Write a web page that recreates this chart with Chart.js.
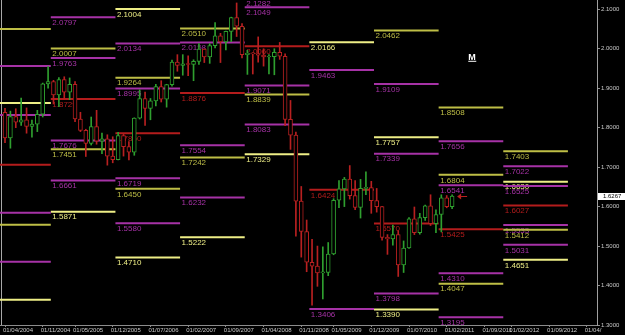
<!DOCTYPE html>
<html>
<head>
<meta charset="utf-8">
<script src="https://cdn.jsdelivr.net/npm/chart.js@4.4.1/dist/chart.umd.min.js"></script>
<style>
  html, body { margin: 0; padding: 0; background: #000; }
  #wrap { width: 625px; height: 335px; position: relative; }
</style>
</head>
<body>
<div id="wrap"><canvas id="gbpChart"></canvas></div>
<script>
// monthly candles, index 0 = Apr 2004 ... index 83 = Mar 2011
const opens = [
  1.8390, 1.7740, 1.8280, 1.8140, 1.8200, 1.8030, 1.8090, 1.8340, 1.9110,
  1.9170, 1.8830, 1.9220, 1.8900, 1.9100, 1.8220, 1.7930, 1.7600, 1.8030, 1.7660, 1.7720, 1.7280,
  1.7190, 1.7800, 1.7520, 1.7380, 1.8240, 1.8740, 1.8490, 1.8680, 1.9040, 1.8720, 1.9090, 1.9660,
  1.9580, 1.9620, 1.9600, 1.9680, 1.9990, 1.9790, 2.0080, 2.0330, 2.0170, 2.0440, 2.0790, 2.0570,
  1.9850, 1.9890, 1.9870, 1.9840, 1.9790, 1.9800, 1.9910, 1.9810, 1.8210, 1.7810, 1.6140, 1.5370,
  1.4590, 1.4490, 1.4320, 1.4330, 1.4800, 1.6160, 1.6450, 1.6700, 1.6280, 1.5980, 1.6460, 1.6480,
  1.6150, 1.6000, 1.5220, 1.5180, 1.5290, 1.4520, 1.4950, 1.5690, 1.5340, 1.5720, 1.6020, 1.5570,
  1.5800, 1.6220, 1.6000
];
const highs = [
  1.8490, 1.8420, 1.8480, 1.8750, 1.8500, 1.8190, 1.8440, 1.9130, 1.9550,
  1.9200, 1.9270, 1.9290, 1.9260, 1.9170, 1.8390, 1.7960, 1.8270, 1.8440, 1.7860, 1.7820, 1.7770,
  1.7880, 1.7830, 1.7650, 1.8250, 1.8960, 1.8900, 1.8740, 1.9100, 1.9190, 1.9100, 1.9710, 1.9850,
  1.9850, 1.9820, 1.9720, 2.0130, 2.0000, 2.0130, 2.0660, 2.0390, 2.0450, 2.0800, 2.1160, 2.0640,
  1.9960, 1.9900, 2.0300, 2.0000, 1.9850, 2.0000, 2.0160, 1.9870, 1.8690, 1.7890, 1.6510, 1.5660,
  1.5170, 1.5000, 1.4980, 1.5090, 1.6200, 1.6660, 1.6740, 1.7040, 1.6660, 1.6690, 1.6880, 1.6640,
  1.6460, 1.6010, 1.5290, 1.5530, 1.5390, 1.5130, 1.5720, 1.5990, 1.5830, 1.6040, 1.6300, 1.5920,
  1.6300, 1.6280, 1.6300
];
const lows = [
  1.7620, 1.7480, 1.8000, 1.8060, 1.7860, 1.7760, 1.7900, 1.8270, 1.9000,
  1.8600, 1.8530, 1.8730, 1.8710, 1.8150, 1.7900, 1.7270, 1.7560, 1.7580, 1.7340, 1.7050, 1.7110,
  1.7180, 1.7280, 1.7180, 1.7300, 1.8220, 1.8060, 1.8200, 1.8550, 1.8650, 1.8520, 1.9050, 1.9430,
  1.9330, 1.9320, 1.9190, 1.9600, 1.9650, 1.9630, 2.0020, 1.9650, 1.9970, 2.0180, 2.0310, 1.9770,
  1.9350, 1.9360, 1.9660, 1.9560, 1.9360, 1.9340, 1.9730, 1.8050, 1.7450, 1.5250, 1.4720, 1.4350,
  1.3500, 1.3980, 1.3660, 1.4250, 1.4780, 1.5970, 1.6000, 1.6190, 1.5920, 1.5710, 1.6300, 1.5830,
  1.5860, 1.5150, 1.4790, 1.5020, 1.4230, 1.4330, 1.4940, 1.5290, 1.5300, 1.5650, 1.5520, 1.5340,
  1.5360, 1.5970, 1.5950
];
const closes = [
  1.7740, 1.8280, 1.8140, 1.8200, 1.8030, 1.8090, 1.8340, 1.9110, 1.9170,
  1.8830, 1.9220, 1.8900, 1.9100, 1.8220, 1.7930, 1.7600, 1.8030, 1.7660, 1.7720, 1.7280, 1.7190,
  1.7800, 1.7520, 1.7380, 1.8240, 1.8740, 1.8490, 1.8680, 1.9040, 1.8720, 1.9090, 1.9660, 1.9580,
  1.9620, 1.9600, 1.9680, 1.9990, 1.9790, 2.0080, 2.0330, 2.0170, 2.0440, 2.0790, 2.0570, 1.9850,
  1.9890, 1.9870, 1.9840, 1.9790, 1.9800, 1.9910, 1.9810, 1.8210, 1.7810, 1.6140, 1.5370, 1.4590,
  1.4490, 1.4320, 1.4330, 1.4800, 1.6160, 1.6450, 1.6700, 1.6280, 1.5980, 1.6460, 1.6480, 1.6150,
  1.6000, 1.5220, 1.5180, 1.5290, 1.4520, 1.4950, 1.5690, 1.5340, 1.5720, 1.6020, 1.5570, 1.5800,
  1.6220, 1.6000, 1.6267
];
const lastPrice = 1.6267;

// yearly levels: [year, price]
const redLevels = [[2004, 1.7058], [2005, 1.8729], [2006, 1.7860], [2007, 1.8876], [2008, 2.0060],
  [2009, 1.6424], [2010, 1.5570], [2011, 1.5425], [2012, 1.6027]];
const magentaLevels = [[2004, 1.9565], [2004, 1.8324], [2004, 1.5843], [2004, 1.4603],
  [2005, 2.0797], [2005, 1.9763], [2005, 1.7676], [2005, 1.6661],
  [2006, 2.0134], [2006, 1.8995], [2006, 1.6719], [2006, 1.5580],
  [2007, 2.0158], [2007, 1.7554], [2007, 1.6232],
  [2008, 2.1282], [2008, 2.1049], [2008, 1.9071], [2008, 1.8083],
  [2009, 1.9463], [2009, 1.3406],
  [2010, 1.9109], [2010, 1.7339], [2010, 1.3798],
  [2011, 1.7656], [2011, 1.6541], [2011, 1.4310], [2011, 1.3195],
  [2012, 1.7022], [2012, 1.6525], [2012, 1.5533], [2012, 1.5031]];
const oliveLevels = [[2004, 2.0501], [2004, 1.5539], [2005, 2.0007], [2005, 1.7451],
  [2006, 1.9264], [2006, 1.6450], [2007, 2.0510], [2007, 1.7242], [2008, 1.8839],
  [2010, 2.0462], [2011, 1.8508], [2011, 1.6804], [2011, 1.4047], [2012, 1.7403], [2012, 1.5412]];
const brightLevels = [[2004, 1.8628], [2004, 1.3641], [2005, 1.5871], [2006, 2.1004], [2006, 1.4710],
  [2007, 1.5222], [2008, 1.7329], [2009, 2.0166], [2010, 1.7757], [2010, 1.3390],
  [2012, 1.6630], [2012, 1.4651]];

// axis ticks
const xTickMonths = [0, 7, 13, 20, 27, 34, 41, 48, 55, 61, 68, 75, 82, 89, 94, 101, 108];
const xTickLabels = ["01/04/2004", "01/11/2004", "01/05/2005", "01/12/2005", "01/07/2006",
  "01/02/2007", "01/09/2007", "01/04/2008", "01/11/2008", "01/05/2009", "01/12/2009",
  "01/07/2010", "01/02/2011", "01/09/2011", "01/02/2012", "01/09/2012", "01/04/"];
const yTicks = [1.3, 1.4, 1.5, 1.6, 1.7, 1.8, 1.9, 2.0, 2.1];

const UP = "#2f9f2f";
const DOWN = "#b82020";
const levelGroups = [
  { levels: magentaLevels, color: "#a632a6" },
  { levels: oliveLevels, color: "#bebe46" },
  { levels: brightLevels, color: "#eeee86" },
  { levels: redLevels, color: "#b41c1c" },
];

// a year's level runs from the gap before January to the gap before next January
const segStart = (yr) => (yr - 2004) * 12 - 3.5;

function segments(levels) {
  const pts = [];
  levels.forEach(([yr, v]) => {
    const s = segStart(yr);
    pts.push({ x: s, y: v }, { x: s + 12, y: v }, { x: s + 12, y: null });
  });
  return pts;
}

const candleColors = opens.map((o, i) => (closes[i] >= o ? UP : DOWN));
const bodies = opens.map((o, i) => ({ x: i, y: [o, closes[i]] }));
const wicks = opens.map((o, i) => ({ x: i, y: [lows[i], highs[i]] }));

const levelText = {
  id: "levelText",
  beforeDatasetsDraw(chart) {
    const { ctx, chartArea: a, scales: { x, y } } = chart;
    ctx.save();
    ctx.beginPath();
    ctx.rect(a.left, a.top, a.right - a.left, a.bottom - a.top);
    ctx.clip();
    ctx.font = '8px "Liberation Sans"';
    ctx.textBaseline = "top";
    levelGroups.forEach((g) => {
      ctx.fillStyle = g.color;
      g.levels.forEach(([yr, v]) => {
        const s = segStart(yr);
        if (s < x.min) return;
        ctx.fillText(v.toFixed(4), x.getPixelForValue(s) + 1.5, y.getPixelForValue(v) + 1.5);
      });
    });
    // left border line
    ctx.strokeStyle = "#a8a8a8";
    ctx.lineWidth = 1;
    ctx.beginPath();
    ctx.moveTo(a.left + 1.5, a.top);
    ctx.lineTo(a.left + 1.5, a.bottom);
    ctx.stroke();
    ctx.restore();
  },
  afterDraw(chart) {
    const { ctx, chartArea: a, scales: { x, y } } = chart;
    const py = Math.round(y.getPixelForValue(lastPrice));
    ctx.save();
    // last price arrow next to the last candle
    const ax = x.getPixelForValue(closes.length - 1) + 5;
    ctx.strokeStyle = DOWN;
    ctx.fillStyle = DOWN;
    ctx.lineWidth = 1;
    ctx.beginPath();
    ctx.moveTo(ax + 2, py + 0.5);
    ctx.lineTo(ax + 10, py + 0.5);
    ctx.stroke();
    ctx.beginPath();
    ctx.moveTo(ax, py + 0.5);
    ctx.lineTo(ax + 4, py - 2.5);
    ctx.lineTo(ax + 4, py + 3.5);
    ctx.closePath();
    ctx.fill();
    // price box on the axis
    ctx.fillStyle = "#ffffff";
    ctx.fillRect(a.right + 1, py - 3, 625 - a.right - 1, 7);
    ctx.fillStyle = "#000000";
    ctx.font = '6px "Liberation Sans"';
    ctx.textBaseline = "middle";
    ctx.fillText(lastPrice.toFixed(4), a.right + 6, py + 0.5);
    // "M" object label
    const mx = x.getPixelForValue(86);
    const my = y.getPixelForValue(1.972);
    ctx.fillStyle = "#ffffff";
    ctx.font = 'bold 9px "Liberation Sans"';
    ctx.textBaseline = "alphabetic";
    ctx.fillText("M", mx, my);
    ctx.fillRect(mx, my + 1, 8, 1);
    ctx.restore();
  },
};

const lineSets = levelGroups.map((g, i) => ({
  type: "line",
  label: "levels" + i,
  data: segments(g.levels),
  borderColor: g.color,
  borderWidth: 2,
  pointRadius: 0,
  spanGaps: false,
  tension: 0,
  order: 2,
}));

new Chart(document.getElementById("gbpChart").getContext("2d"), {
  type: "bar",
  data: {
    datasets: [
      {
        label: "bodies",
        data: bodies,
        backgroundColor: "#000000",
        borderColor: candleColors,
        borderWidth: 1,
        borderSkipped: false,
        barThickness: 4,
        minBarLength: 1,
        grouped: false,
        order: 0,
      },
      {
        label: "wicks",
        data: wicks,
        backgroundColor: candleColors,
        borderWidth: 0,
        barThickness: 1,
        grouped: false,
        order: 1,
      },
      ...lineSets,
    ],
  },
  options: {
    responsive: true,
    maintainAspectRatio: false,
    animation: false,
    layout: { padding: 0 },
    plugins: { legend: { display: false }, tooltip: { enabled: false } },
    scales: {
      x: {
        type: "linear",
        min: -0.93,
        max: 109.9,
        offset: false,
        grid: { display: true, drawOnChartArea: false, offset: false, tickLength: 2, color: "#8c8c8c" },
        border: { display: true, color: "#8c8c8c" },
        afterBuildTicks: (axis) => { axis.ticks = xTickMonths.map((v) => ({ value: v })); },
        afterFit: (axis) => {
          axis.height = 10;
          axis.paddingLeft = 0;
          axis.paddingRight = 0;
        },
        ticks: {
          autoSkip: false,
          maxRotation: 0,
          minRotation: 0,
          align: "start",
          labelOffset: -2,
          padding: 0,
          color: "#c8c8c8",
          font: { family: "Liberation Sans", size: 6 },
          callback: (v, i) => xTickLabels[i],
        },
      },
      y: {
        position: "right",
        min: 1.3,
        max: 2.1235,
        grid: { display: true, drawOnChartArea: false, tickLength: 3, color: "#8c8c8c" },
        border: { display: true, color: "#a0a0a0" },
        afterBuildTicks: (axis) => { axis.ticks = yTicks.map((v) => ({ value: v })); },
        afterFit: (axis) => {
          axis.width = 28;
          axis.paddingTop = 0;
          axis.paddingBottom = 0;
        },
        ticks: {
          padding: 1,
          color: "#c8c8c8",
          font: { family: "Liberation Sans", size: 6 },
          callback: (v) => Number(v).toFixed(4),
        },
      },
    },
  },
  plugins: [levelText],
});
</script>
</body>
</html>
